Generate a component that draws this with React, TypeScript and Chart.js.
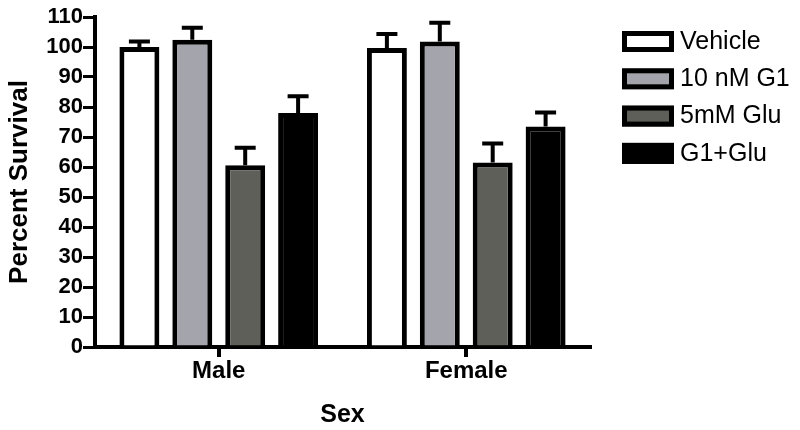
import React, { useEffect, useRef } from "react";
import { Chart, registerables } from "chart.js";

Chart.register(...registerables);

const categories = ["Male", "Female"];
const seriesLabels = ["Vehicle", "10 nM G1", "5mM Glu", "G1+Glu"];
const seriesColors = ["#ffffff", "#a4a4ac", "#5e5f58", "#000000"];
const vehicle = [100, 99.7];
const g1 = [102.4, 101.8];
const glu = [60.6, 61.5];
const g1glu = [78, 73.5];
const vehicleErr = [1.8, 4.6];
const g1Err = [4, 6.3];
const gluErr = [5.8, 6.3];
const g1gluErr = [5.6, 4.7];
const yTicks = [0, 10, 20, 30, 40, 50, 60, 70, 80, 90, 100, 110];

const seriesValues = [vehicle, g1, glu, g1glu];
const seriesErrors = [vehicleErr, g1Err, gluErr, g1gluErr];

const FONT = "Arial, 'Liberation Sans', sans-serif";

const errorBarPlugin = {
  id: "errorBars",
  afterDatasetsDraw(chart: any) {
    const ctx = chart.ctx;
    const yScale = chart.scales.y;
    ctx.save();
    ctx.strokeStyle = "#000";
    ctx.lineWidth = 4;
    chart.data.datasets.forEach((ds: any, i: number) => {
      const meta = chart.getDatasetMeta(i);
      meta.data.forEach((bar: any, j: number) => {
        const v = ds.data[j];
        const e = ds.errors[j];
        const yTop = yScale.getPixelForValue(v);
        const yErr = yScale.getPixelForValue(v + e);
        ctx.beginPath();
        ctx.moveTo(bar.x, yTop);
        ctx.lineTo(bar.x, yErr);
        ctx.moveTo(bar.x - 10.5, yErr);
        ctx.lineTo(bar.x + 10.5, yErr);
        ctx.stroke();
      });
    });
    ctx.restore();
  },
};

const legendPlugin = {
  id: "customLegend",
  afterDraw(chart: any) {
    const ctx = chart.ctx;
    ctx.save();
    chart.data.datasets.forEach((ds: any, i: number) => {
      const top = 31 + i * 37.3;
      ctx.fillStyle = ds.backgroundColor;
      ctx.fillRect(622, top, 52, 21);
      ctx.strokeStyle = "#000";
      ctx.lineWidth = 5;
      ctx.strokeRect(624.5, top + 2.5, 47, 16);
      ctx.fillStyle = "#000";
      ctx.font = `25px ${FONT}`;
      ctx.textBaseline = "middle";
      ctx.textAlign = "left";
      ctx.fillText(ds.label, 680, top + 11);
    });
    ctx.restore();
  },
};

export default function App() {
  const ref = useRef<HTMLCanvasElement | null>(null);
  useEffect(() => {
    if (!ref.current) return;
    const chart = new Chart(ref.current, {
      type: "bar",
      data: {
        labels: categories,
        datasets: seriesLabels.map((label, i) => ({
          label,
          data: seriesValues[i],
          errors: seriesErrors[i],
          backgroundColor: seriesColors[i],
          borderColor: "#000",
          borderWidth: 5,
          categoryPercentage: 0.855,
          barPercentage: 0.755,
        })) as any,
      },
      options: {
        animation: false,
        responsive: true,
        maintainAspectRatio: false,
        layout: { padding: { top: 17, right: 210, left: 0, bottom: 0 } },
        plugins: {
          legend: { display: false },
          tooltip: { enabled: false },
        },
        scales: {
          x: {
            grid: {
              display: true,
              drawOnChartArea: false,
              drawTicks: true,
              tickLength: 10,
              lineWidth: 4,
              color: "#000",
              offset: false,
            },
            border: { display: true, width: 4, color: "#000" },
            ticks: {
              color: "#000",
              padding: 0,
              font: { family: FONT, size: 24, weight: "bold" },
            },
            title: {
              display: true,
              text: "Sex",
              color: "#000",
              padding: { top: 6, bottom: 0 },
              font: { family: FONT, size: 25, weight: "bold" },
            },
            afterFit(scale: any) {
              scale.height = 83;
            },
          },
          y: {
            min: 0,
            max: 110,
            afterBuildTicks(scale: any) {
              scale.ticks = yTicks.map((v) => ({ value: v }));
            },
            grid: {
              display: true,
              drawOnChartArea: false,
              drawTicks: true,
              tickLength: 12,
              lineWidth: 3,
              color: "#000",
            },
            border: { display: true, width: 4, color: "#000" },
            ticks: {
              color: "#000",
              padding: 0,
              font: { family: FONT, size: 22, weight: "bold" },
            },
            title: {
              display: true,
              text: "Percent Survival",
              color: "#000",
              padding: { top: 4, bottom: 0 },
              font: { family: FONT, size: 26, weight: "bold" },
            },
            afterFit(scale: any) {
              scale.width = 95;
            },
          },
        },
      } as any,
      plugins: [errorBarPlugin, legendPlugin],
    });
    return () => chart.destroy();
  }, []);
  return (
    <div style={{ position: "absolute", left: 0, top: 0, width: 800, height: 430, background: "#fff" }}>
      <canvas ref={ref} />
    </div>
  );
}
